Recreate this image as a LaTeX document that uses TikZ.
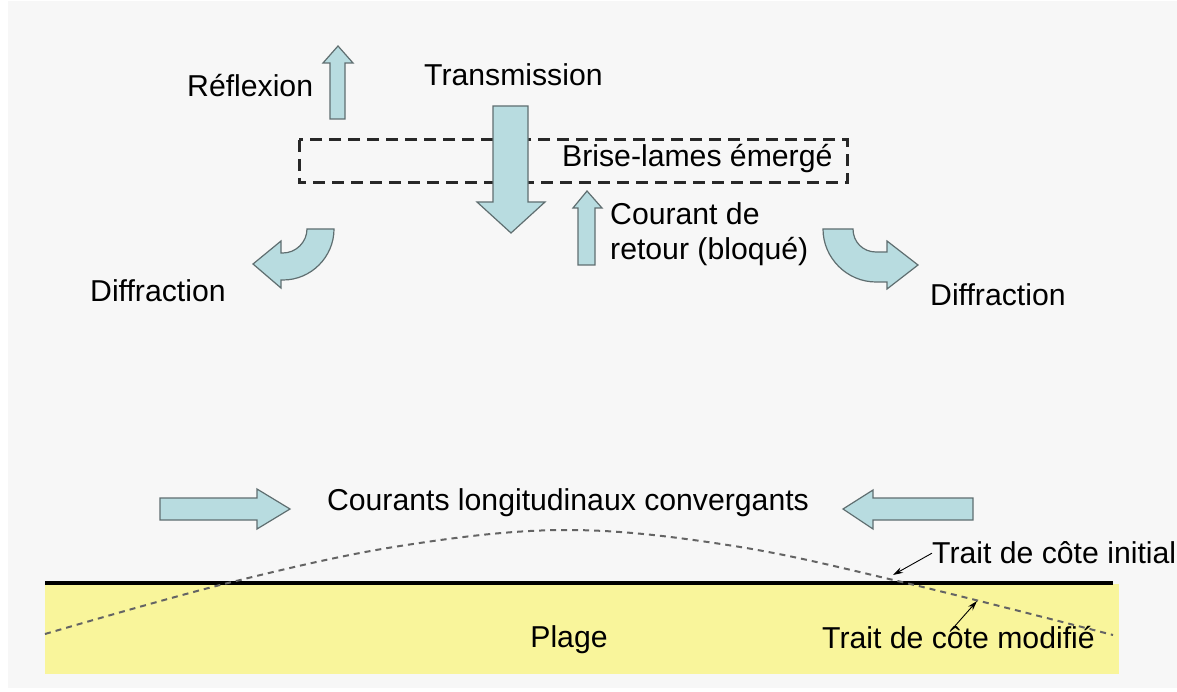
\documentclass[tikz,border=0pt]{standalone}
\usepackage{fontspec}
\setmainfont{Liberation Sans}
\usetikzlibrary{arrows.meta}
\definecolor{bgcol}{RGB}{247,247,247}
\definecolor{arrowfill}{RGB}{184,220,224}
\definecolor{arrowline}{RGB}{95,110,112}
\definecolor{sand}{RGB}{249,245,155}
\definecolor{dashgray}{RGB}{100,100,100}
\definecolor{boxgray}{RGB}{40,40,40}
\tikzset{
  lbl/.style={inner sep=0pt, anchor=base west, font=\fontsize{30.2}{36}\selectfont},
  blockarrow/.style={fill=arrowfill, draw=arrowline, line width=1.2pt, line join=miter},
  pointer/.style={draw=black, line width=0.9pt, -{Stealth[length=10pt,width=6pt]}},
}
\begin{document}
\begin{tikzpicture}[x=1pt,y=-1pt]
\useasboundingbox (0,0) rectangle (1177,692);
\fill[white] (0,0) rectangle (1177,692);
\fill[bgcol] (8,1) rectangle (1177,688);

% beach
\fill[sand] (45,584) rectangle (1119,674);
\draw[line width=4pt] (45,583) -- (1113,583);
\draw[dashgray, line width=2pt, dash pattern=on 6pt off 5pt]
  plot[smooth, tension=0.6] coordinates {(45,634) (228,583) (400,546) (567,530) (734,546) (906,583) (1113,635)};

% dashed breakwater
\draw[boxgray, line width=3pt, dash pattern=on 12pt off 7pt] (299,140) rectangle (847,183);

% reflexion arrow (up)
\draw[blockarrow] (330,119) -- (330,63) -- (323,63) -- (338,46) -- (353,63) -- (345,63) -- (345,119) -- cycle;
% transmission arrow (down)
\draw[blockarrow] (493,106) -- (528,106) -- (528,202) -- (545,202) -- (511,233) -- (477,202) -- (493,202) -- cycle;
% return current arrow (up)
\draw[blockarrow] (578,265) -- (578,208) -- (573,208) -- (587,191) -- (602,208) -- (595,208) -- (595,265) -- cycle;

% left diffraction
\draw[blockarrow] (307,229) -- (334,229) .. controls (334,257) and (311,280) .. (283,280)
  -- (281,280) -- (281,288) -- (253,264) -- (281,241) -- (281,253) -- (283,253)
  .. controls (296,253) and (307,242) .. (307,229) -- cycle;
% right diffraction
\draw[blockarrow] (823,229) -- (853,229) .. controls (853,242) and (863,252) .. (876,252)
  -- (887,252) -- (887,241) -- (918,265) -- (887,289) -- (887,282) -- (876,282)
  .. controls (847,282) and (823,258) .. (823,229) -- cycle;

% longshore arrows
\draw[blockarrow] (160,498) -- (257,498) -- (257,489) -- (290,509) -- (257,529) -- (257,520) -- (160,520) -- cycle;
\draw[blockarrow] (973,498) -- (873,498) -- (873,490) -- (843,509) -- (873,529) -- (873,520) -- (973,520) -- cycle;

% labels
\node[lbl] (refl) at (187,97) {Réflexion};
\node[lbl] (trans) at (424,86) {Transmission};
\node[lbl] (brise) at (562,167) {Brise-lames émergé};
\node[lbl] (cour1) at (610,225) {Courant de};
\node[lbl] (cour2) at (610,260) {retour (bloqué)};
\node[lbl] (diffl) at (90,302) {Diffraction};
\node[lbl] (diffr) at (930,306) {Diffraction};
\node[lbl, anchor=base] (conv) at (568,510) {Courants longitudinaux convergants};
\node[lbl] (init) at (932,563) {Trait de côte initial};
\node[lbl, anchor=base] (plage) at (569,647) {Plage};
\node[lbl] (modif) at (822,648) {Trait de côte modifié};

\coordinate (tipinit) at (893,575);
\coordinate (tipmod) at (977,601);
\draw[pointer] ([yshift=-1pt]init.west) -- (tipinit);
\draw[pointer] ([xshift=128pt,yshift=-6pt]modif.north west) -- (tipmod);
\end{tikzpicture}
\end{document}
